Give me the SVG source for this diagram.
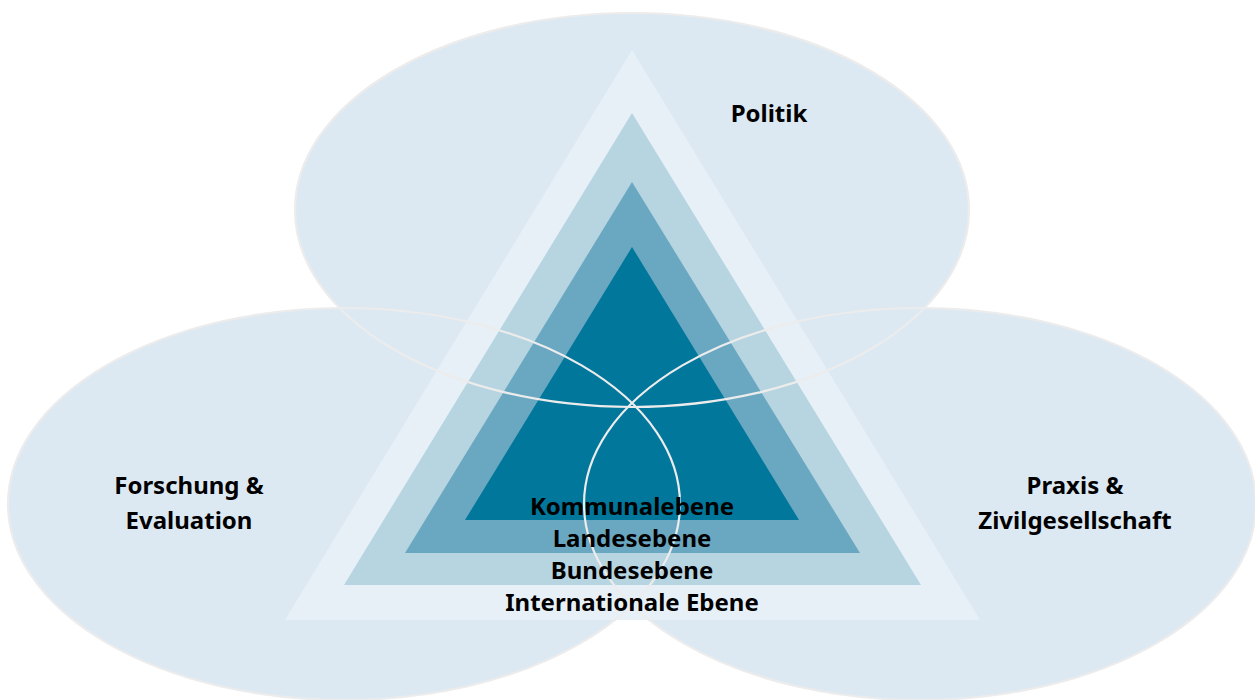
<svg xmlns="http://www.w3.org/2000/svg" width="1255" height="700" viewBox="0 0 1255 700">
  <style>
    .area { fill: #dde9f2; stroke: none; }
    .outline { fill: none; stroke: #ececec; stroke-width: 2.2; }
    .lbl { font-family: "Noto Sans", "Open Sans", "Liberation Sans", sans-serif; font-weight: bold; font-size: 24px; fill: #000000; text-anchor: middle; }
  </style>
  <rect width="1255" height="700" fill="#ffffff"/>
  <g id="areas">
    <ellipse id="area-politik" class="area" cx="632" cy="210" rx="337" ry="197"/>
    <ellipse id="area-forschung" class="area" cx="344" cy="504" rx="336" ry="196"/>
    <ellipse id="area-praxis" class="area" cx="920" cy="504" rx="336" ry="196"/>
  </g>
  <g id="levels">
    <polygon id="level-international" points="632,50 285,620 980,620" fill="#e7f0f7"/>
    <polygon id="level-bund" points="632,113 344,585 921,585" fill="#b7d4e1"/>
    <polygon id="level-land" points="632,182 405,553 860,553" fill="#6aa8c2"/>
    <polygon id="level-kommune" points="632,247 465,520 799,520" fill="#00779b"/>
  </g>
  <g id="outlines">
    <ellipse class="outline" cx="632" cy="210" rx="337" ry="197"/>
    <ellipse class="outline" cx="344" cy="504" rx="336" ry="196"/>
    <ellipse class="outline" cx="920" cy="504" rx="336" ry="196"/>
  </g>
  <g id="connectors"></g>
  <g id="node-politik">
    <text class="lbl" x="769" y="122">Politik</text>
  </g>
  <g id="node-forschung">
    <text class="lbl" x="189" y="494">Forschung &amp;</text>
    <text class="lbl" x="189" y="529">Evaluation</text>
  </g>
  <g id="node-praxis">
    <text class="lbl" x="1075" y="494">Praxis &amp;</text>
    <text class="lbl" x="1075" y="529">Zivilgesellschaft</text>
  </g>
  <g id="node-ebenen">
    <text class="lbl" x="632" y="515">Kommunalebene</text>
    <text class="lbl" x="632" y="547">Landesebene</text>
    <text class="lbl" x="632" y="579">Bundesebene</text>
    <text class="lbl" x="632" y="611">Internationale Ebene</text>
  </g>
</svg>
